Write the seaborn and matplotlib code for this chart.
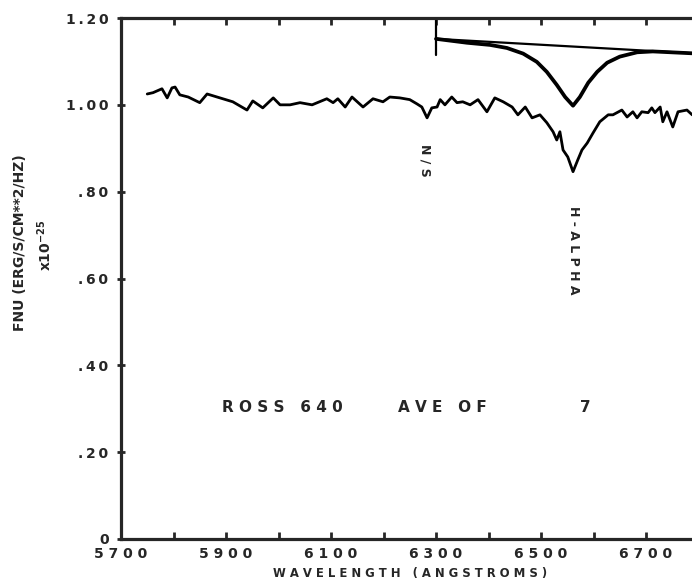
import numpy as np
import pandas as pd
import matplotlib
matplotlib.use("Agg")
import matplotlib.pyplot as plt
import seaborn as sns

# ---- data ----
wavelength = [5750, 5761, 5778, 5788, 5797, 5803, 5812, 5828, 5850, 5864, 5883, 5913,
              5940, 5951, 5970, 5990, 6003, 6022, 6041, 6064, 6092, 6104, 6113, 6127,
              6140, 6161, 6180, 6199, 6212, 6231, 6250, 6264, 6273, 6283, 6292, 6302,
              6308, 6317, 6330, 6340, 6351, 6365, 6380, 6397, 6412, 6428, 6445, 6456,
              6470, 6483, 6498, 6511, 6523, 6530, 6536, 6542, 6551, 6561, 6570, 6578,
              6588, 6599, 6612, 6628, 6637, 6654, 6664, 6675, 6683, 6692, 6704, 6711,
              6717, 6727, 6732, 6740, 6751, 6761, 6778, 6788, 6803]
flux = [1.025, 1.028, 1.037, 1.016, 1.039, 1.041, 1.023, 1.018, 1.005, 1.025, 1.018, 1.007,
        0.988, 1.009, 0.993, 1.016, 1.000, 1.000, 1.005, 1.000, 1.014, 1.005, 1.014, 0.995,
        1.018, 0.995, 1.014, 1.007, 1.018, 1.016, 1.012, 1.002, 0.995, 0.970, 0.993, 0.995,
        1.012, 1.000, 1.018, 1.005, 1.007, 1.000, 1.012, 0.984, 1.016, 1.007, 0.995, 0.977,
        0.995, 0.970, 0.977, 0.959, 0.938, 0.919, 0.938, 0.896, 0.880, 0.846, 0.873, 0.896,
        0.912, 0.935, 0.961, 0.977, 0.977, 0.988, 0.972, 0.984, 0.970, 0.984, 0.982, 0.993,
        0.982, 0.995, 0.961, 0.984, 0.949, 0.984, 0.988, 0.977, 0.984]

# H-alpha profile inset at top
profile_wl = [6300, 6359, 6403, 6435, 6466, 6492, 6511, 6530, 6546, 6561, 6574, 6590,
              6607, 6626, 6650, 6683, 6713, 6800]
profile_flux = [1.152, 1.143, 1.138, 1.131, 1.118, 1.099, 1.076, 1.046, 1.018, 0.998,
                1.018, 1.051, 1.076, 1.097, 1.111, 1.121, 1.123, 1.118]
continuum_wl = [6300, 6800]
continuum_flux = [1.152, 1.118]
marker_wl = [6300, 6300]
marker_flux = [1.20, 1.115]

xtick_values = [5700, 5900, 6100, 6300, 6500, 6700]
xtick_labels = ["5 7 0 0", "5 9 0 0", "6 1 0 0", "6 3 0 0", "6 5 0 0", "6 7 0 0"]
ytick_values = [0, 0.2, 0.4, 0.6, 0.8, 1.0, 1.2]
ytick_labels = ["0", ".\u20092\u20090", ".\u20094\u20090", ".\u20096\u20090",
                ".\u20098\u20090", "1\u2009.\u20090\u20090", "1\u2009.\u20092\u20090"]

# ---- plotting ----
sns.set_style("ticks")
plt.rcParams["font.family"] = ["DejaVu Sans"]
plt.rcParams["font.weight"] = "bold"

W, H = 692, 585
fig = plt.figure(figsize=(W / 100, H / 100), dpi=100)
ax = fig.add_axes([121 / W, 1 - 539 / H, (698.5 - 121) / W, (539 - 18) / H])

spec = pd.DataFrame({"wl": wavelength, "fnu": flux})
prof = pd.DataFrame({"wl": profile_wl, "fnu": profile_flux})
sns.lineplot(data=spec, x="wl", y="fnu", ax=ax, color="black", lw=2.0, sort=False)
sns.lineplot(data=prof, x="wl", y="fnu", ax=ax, color="black", lw=2.7, sort=False)
ax.plot(continuum_wl, continuum_flux, color="black", lw=1.6)
ax.plot(marker_wl, marker_flux, color="black", lw=1.6)

ax.set_xlim(5700, 6800)
ax.set_ylim(0, 1.2)
ax.set_xticks(xtick_values)
ax.set_xticklabels(xtick_labels, fontsize=10, fontweight="bold")
ax.set_xticks(np.arange(5800, 6800, 200), minor=True)
ax.set_yticks(ytick_values)
ax.set_yticklabels(ytick_labels, fontsize=10, fontweight="bold")

for s in ax.spines.values():
    s.set_linewidth(2.3)
    s.set_visible(True)
ax.tick_params(axis="x", which="both", direction="in", length=5, width=2,
               top=True, bottom=True, pad=6)
ax.tick_params(axis="y", which="both", direction="inout", length=6, width=2, pad=6)

ax.set_xlabel("W A V E L E N G T H   ( A N G S T R O M S )", fontsize=8.4,
              fontweight="bold", labelpad=4)
ax.set_ylabel("")

fig.text(20 / W, 1 - 243 / H, "FNU (ERG/S/CM**2/HZ)", rotation=90, ha="center",
         va="center", fontsize=10, fontweight="bold")
fig.text(45 / W, 1 - 245 / H, r"x10$^{\mathbf{-25}}$", rotation=90, ha="center",
         va="center", fontsize=10, fontweight="bold")

ax.text(6279, 0.873, "N / S", rotation=270, ha="center", va="center",
        fontsize=9, fontweight="bold")
ax.text(6561, 0.666, "H - A L P H A", rotation=270, ha="center", va="center",
        fontsize=9, fontweight="bold")

ax.text(5892, 0.302, "R O S S   6 4 0", ha="left", va="center", fontsize=11, fontweight="bold")
ax.text(6228, 0.302, "A V E   O F", ha="left", va="center", fontsize=11, fontweight="bold")
ax.text(6574, 0.302, "7", ha="left", va="center", fontsize=11, fontweight="bold")

fig.savefig("out.png", dpi=100)
